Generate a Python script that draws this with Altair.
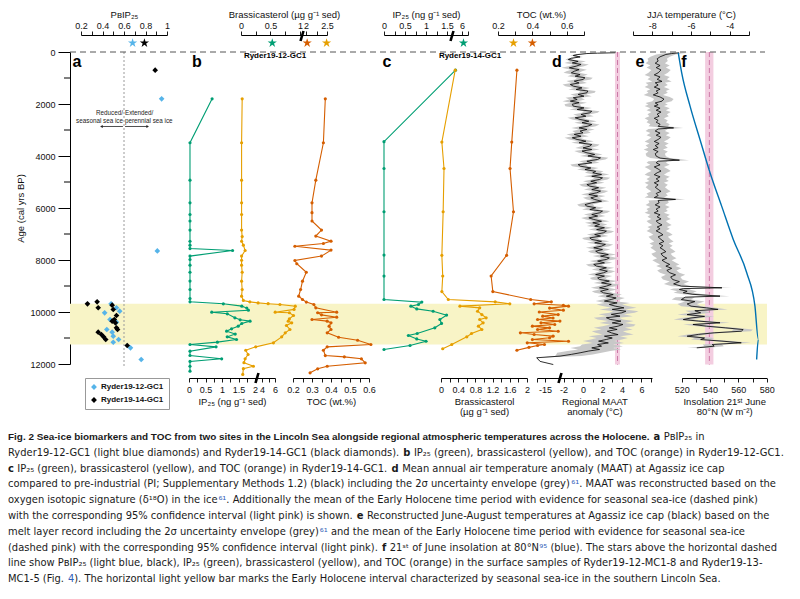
import os
import struct
import altair as alt
import pandas as pd

# ======================= DATA =======================
# a: PBIP25
a12_age = [1800, 7650, 9685, 9838, 9969, 10031, 10288, 10390, 10673, 10776, 10930, 11058, 11162, 11377, 11827]
a12_val = [0.95, 0.91, 0.48, 0.53, 0.56, 0.42, 0.47, 0.53, 0.44, 0.49, 0.50, 0.55, 0.50, 0.66, 0.76]
a14_age = [700, 9608, 9685, 9738, 9838, 9904, 10135, 10288, 10352, 10416, 10608, 10673, 10776, 10865, 10954, 11058, 11288]
a14_val = [0.89, 0.35, 0.26, 0.49, 0.36, 0.50, 0.53, 0.51, 0.49, 0.52, 0.53, 0.54, 0.36, 0.39, 0.41, 0.43, 0.63]
cores = ["Ryder19-12-GC1", "Ryder19-14-GC1"]
star_a = [0.68, 0.79]          # surface PBIP25 (light blue, black)

# b: Ryder19-12-GC1
b_ip_age = [1800, 3490, 4930, 5800, 6250, 6500, 6850, 7280, 7430, 7560, 7635, 7850, 7980, 8200, 8470, 8810, 9135,
            9480, 9608, 9685, 9775, 9850, 9930, 10007, 10070, 10223, 10300, 10352, 10442, 10544, 10647, 10737,
            10850, 10955, 11058, 11160, 11250, 11340, 11506, 11673, 11800, 11900, 12085, 12275]
b_ip_val = [0.70, 0.03, 0.03, 0.03, 0.03, 0.03, 0.03, 0.03, 0.03, 0.03, 1.32, 0.03, 0.03, 0.03, 0.03, 0.03, 0.03,
            0.03, 0.03, 1.04, 1.60, 1.75, 1.80, 0.69, 1.16, 1.39, 1.55, 1.85, 1.60, 1.49, 1.29, 1.14,
            1.40, 1.16, 1.44, 0.86, 0.03, 0.82, 0.03, 0.03, 0.99, 0.03, 0.03, 0.03]
b_br_age = [1800, 3490, 4930, 5800, 6250, 6850, 7100, 7280, 7430, 7635, 7850, 8010, 8200, 8470, 8815, 9135, 9390,
            9555, 9610, 9650, 9680, 9710, 9775, 9900, 10007, 10030, 10135, 10265, 10352, 10416, 10520, 10673,
            10800, 10955, 11185, 11340, 11470, 11635, 11800, 11950, 12085, 12180, 12400]
b_br_val = [0.02, 0.01, 0.01, 0.01, 0.01, 0.01, 0.02, 0.01, 0.04, 0.07, 0.01, 0.01, 0.01, 0.02, 0.01, 0.02, 0.01,
            0.04, 0.15, 0.29, 0.46, 0.66, 0.92, 0.90, 0.58, 0.82, 0.89, 0.82, 0.80, 0.86, 0.77, 0.83,
            0.75, 0.69, 0.55, 0.25, 0.08, 0.12, 0.07, 0.05, 0.21, 0.04, 0.03]
b_toc_age = [1800, 3490, 4930, 5800, 6180, 6500, 6850, 7080, 7275, 7365, 7470, 7620, 7850, 8020, 8145, 8470, 8815,
             9135, 9390, 9520, 9620, 9710, 9840, 10007, 10030, 10110, 10200, 10290, 10352, 10416, 10544, 10673,
             10800, 10970, 11085, 11250, 11340, 11470, 11675, 11725, 11800, 11955, 12085, 12185, 12340]
b_toc_val = [0.37, 0.36, 0.32, 0.30, 0.30, 0.30, 0.35, 0.32, 0.40, 0.36, 0.21, 0.40, 0.35, 0.21, 0.22, 0.27, 0.25,
             0.24, 0.23, 0.25, 0.27, 0.31, 0.32, 0.43, 0.33, 0.35, 0.43, 0.30, 0.38, 0.40, 0.39, 0.40,
             0.38, 0.44, 0.54, 0.61, 0.38, 0.36, 0.37, 0.47, 0.56, 0.58, 0.38, 0.33, 0.29]
star_b = [0.53, 2.03, 2.49]    # marks on the top axis of b (green, orange, yellow)

# c: Ryder19-14-GC1
c_ip_age = [700, 3450, 4480, 6145, 7810, 8620, 9520, 9620, 9710, 9775, 9880, 9970, 10120, 10290, 10440, 10608,
            10827, 10904, 11035, 11125, 11290, 11443]
c_ip_val = [4.7, 0, 0, 0, 0, 0, 0, 0.9, 0.82, 0.64, 0.78, 1.17, 1.49, 1.33, 1.37, 1.21, 0.79, 0.58, 0.78, 1.0, 0.62, 0]
c_br_age = [700, 3465, 4480, 6145, 7820, 8615, 9215, 9520, 9610, 9685, 9775, 9840, 9970, 10100, 10225, 10290,
            10416, 10545, 10673, 10827, 10955, 11250, 11415]
c_br_val = [0.33, 0.02, 0.07, 0.05, 0.02, 0.04, 0.02, 0.17, 1.26, 1.60, 0.44, 0.90, 0.85, 0.95, 1.05, 0.90,
            0.98, 0.87, 0.95, 0.71, 0.60, 0.25, 0.04]
c_toc_age = [700, 3465, 4480, 6145, 7820, 8615, 9215, 9520, 9610, 9685, 9740, 9775, 9850, 9930, 10000, 10100,
             10160, 10230, 10290, 10350, 10416, 10480, 10545, 10610, 10673, 10740, 10800, 10865, 10930, 10990,
             11060, 11125, 11185, 11250, 11290, 11360, 11470]
c_toc_val = [0.31, 0.28, 0.27, 0.29, 0.25, 0.16, 0.17, 0.39, 0.51, 0.41, 0.58, 0.61, 0.50, 0.58, 0.44, 0.55,
             0.46, 0.52, 0.43, 0.56, 0.45, 0.53, 0.40, 0.50, 0.43, 0.55, 0.33, 0.41, 0.52, 0.50,
             0.40, 0.61, 0.37, 0.47, 0.43, 0.38, 0.31]
star_c_ip = 6.3
star_c_toc = [0.29, 0.40]      # yellow, orange

# d: MAAT anomaly (deg C)
d_age = [30, 45, 60, 100, 135, 190, 240, 288, 360, 420, 480, 544, 610, 680, 740, 800, 870, 930, 990, 1056,
         1120, 1190, 1250, 1313, 1380, 1440, 1500, 1569, 1630, 1700, 1760, 1826, 1890, 1950, 2010, 2082, 2150,
         2210, 2280, 2338, 2400, 2470, 2530, 2595, 2660, 2720, 2790, 2851, 2920, 2980, 3040, 3108, 3170, 3240,
         3300, 3364, 3430, 3490, 3560, 3620, 3690, 3750, 3810, 3877, 3940, 4000, 4070, 4133, 4200, 4260, 4330,
         4390, 4460, 4520, 4590, 4646, 4710, 4780, 4840, 4903, 4970, 5030, 5100, 5159, 5220, 5290, 5350, 5415,
         5480, 5540, 5610, 5672, 5740, 5800, 5870, 5928, 5990, 6060, 6120, 6185, 6250, 6310, 6380, 6441, 6510,
         6570, 6630, 6697, 6760, 6830, 6890, 6954, 7020, 7080, 7150, 7210, 7280, 7340, 7400, 7467, 7530, 7600,
         7660, 7723, 7790, 7850, 7920, 7979, 8040, 8110, 8170, 8236, 8300, 8370, 8430, 8492, 8560, 8620, 8690,
         8749, 8810, 8880, 8940, 9005, 9070, 9130, 9200, 9261, 9330, 9390, 9460, 9518, 9580, 9650, 9710, 9774,
         9840, 9900, 9970, 10031, 10090, 10160, 10220, 10287, 10350, 10420, 10480, 10544, 10610, 10670, 10740,
         10800, 10870, 10930, 11000, 11056, 11120, 11190, 11250, 11313, 11380, 11440, 11500, 11569, 11630, 11697,
         11760, 11900, 12020]
d_val = [3.3, 1.5, 0.4, -0.6, -1.0, -0.3, -1.2, -1.5, -0.5, -1.1, -0.2, -0.7, -1.4, -0.4, -0.9, -1.2, -0.3, -0.8,
         0.2, 0.0, -0.9, -0.4, -1.3, -1.0, -0.1, -0.7, 0.5, 0.4, -0.5, 0.1, -1.0, -0.6, -1.3, -0.4, -1.1, -1.0,
         0.1, -0.6, 0.9, 0.7, -0.2, 0.3, -0.8, -0.3, 0.6, -0.1, 0.9, 0.5, -0.4, 0.4, -0.3, 0.0, -0.9, -0.2, -1.1,
         -0.6, 0.3, -0.4, 0.9, 0.7, 0.0, 0.9, -0.1, 0.4, 1.2, 0.5, 1.8, 1.5, 0.4, 0.9, -0.5, -0.3, 0.8, 0.2, 1.3,
         1.0, 1.9, 0.9, 2.0, 1.7, 0.8, 1.4, 0.4, 0.7, 1.6, 0.9, 1.8, 1.4, 0.6, 1.5, 0.8, 1.2, 1.9, 0.9, 0.2, 0.4,
         1.3, 0.7, 2.0, 1.7, 0.9, 1.5, 0.6, 1.1, 1.9, 1.0, 1.7, 1.2, 2.2, 1.4, 2.4, 2.1, 1.2, 1.8, 0.7, 0.9, 1.9,
         1.2, 2.3, 1.9, 1.1, 2.0, 1.3, 1.6, 2.6, 1.8, 2.7, 2.4, 1.5, 2.2, 1.1, 1.4, 2.4, 1.7, 2.5, 2.1, 1.3, 2.2,
         1.5, 1.7, 2.7, 1.9, 2.9, 2.4, 1.7, 2.6, 1.8, 2.1, 3.1, 2.4, 3.4, 2.9, 2.2, 3.5, 2.7, 3.3, 4.2, 3.0, 4.4,
         4.0, 2.9, 3.8, 2.4, 2.8, 3.9, 3.0, 4.1, 3.6, 2.7, 3.5, 2.5, 2.9, 3.6, 2.2, 3.0, 2.4, 1.6, 2.6, 1.5, 1.9,
         0.9, 1.7, 0.6, -0.3, -1.2, -2.36, -23.5, -20.0, -6.5]
# 2-sigma envelope half width, given from each listed age downwards
d_env_age = [0, 300, 9000, 9600, 10500, 11300, 11700]
d_env_half = [0.3, 0.8, 0.9, 1.3, 1.6, 2.2, 0.4]
d_eh_mean, d_eh_lo, d_eh_hi = 3.54, 3.28, 3.79

# e: JJA temperature (deg C)
e_age = [30, 60, 95, 185, 260, 350, 430, 520, 600, 690, 800, 880, 960, 1050, 1130, 1185, 1270, 1350, 1430, 1500,
         1570, 1650, 1730, 1810, 1890, 1960, 2030, 2080, 2160, 2240, 2310, 2390, 2470, 2550, 2630, 2700, 2780,
         2860, 2920, 2960, 3040, 3120, 3200, 3280, 3365, 3440, 3520, 3600, 3680, 3750, 3830, 3910, 4005, 4080,
         4160, 4200, 4260, 4340, 4420, 4500, 4580, 4645, 4720, 4800, 4880, 4960, 5030, 5110, 5200, 5285, 5360,
         5440, 5520, 5600, 5670, 5710, 5800, 5880, 5960, 6040, 6120, 6185, 6260, 6340, 6420, 6500, 6570, 6650,
         6730, 6800, 6880, 6955, 7030, 7110, 7210, 7290, 7370, 7450, 7530, 7595, 7680, 7760, 7850, 7930, 8010,
         8100, 8170, 8235, 8320, 8400, 8490, 8570, 8650, 8750, 8830, 8920, 9005, 9070, 9100, 9135, 9200, 9260,
         9320, 9390, 9430, 9520, 9600, 9690, 9775, 9840, 9900, 9950, 10030, 10100, 10170, 10230, 10290, 10350,
         10415, 10480, 10545, 10610, 10675, 10740, 10800, 10860, 10930, 11000, 11060, 11120, 11185, 11250, 11315,
         11380]
e_val = [-6.62, -7.0, -7.3, -7.6, -7.75, -7.7, -7.85, -7.6, -7.8, -7.55, -7.7, -7.9, -7.6, -7.75, -7.5, -7.85,
         -7.7, -7.9, -7.6, -7.8, -7.7, -7.95, -7.6, -7.4, -7.5, -7.85, -7.7, -7.9, -7.6, -7.8, -7.55, -7.75, -7.65,
         -7.9, -7.7, -7.8, -7.6, -7.7, -6.9, -7.7, -7.85, -7.6, -7.8, -7.55, -7.7, -7.9, -7.65, -7.85, -7.7, -7.95,
         -7.7, -7.85, -7.8, -7.6, -6.6, -7.7, -7.8, -7.6, -7.9, -7.7, -7.55, -7.75, -7.9, -7.6, -7.8, -7.65, -7.9,
         -7.7, -7.85, -7.7, -7.55, -7.8, -7.7, -7.9, -6.8, -7.7, -7.65, -7.85, -7.6, -7.8, -7.7, -7.9, -7.6, -7.75,
         -7.55, -7.8, -7.7, -7.5, -7.75, -7.6, -7.8, -7.6, -7.45, -7.7, -7.55, -7.4, -7.65, -7.45, -7.6, -7.45,
         -7.3, -7.55, -7.45, -7.25, -7.5, -7.3, -7.1, -7.3, -7.0, -7.25, -7.1, -6.8, -7.05, -6.95, -6.6, -6.9, -6.5,
         -4.4, -6.4, -6.6, -6.2, -6.4, -5.9, -4.5, -6.3, -6.5, -5.8, -6.2, -6.0, -5.2, -4.6, -5.8, -5.5, -6.2, -5.3,
         -6.0, -6.4, -5.6, -4.5, -5.9, -5.2, -4.2, -3.3, -3.4, -4.8, -5.6, -6.2, -5.3, -5.5, -4.4, -3.4, -4.9, -4.8,
         -5.7]
e_env_half = 0.5
e_eh_mean, e_eh_lo, e_eh_hi = -5.05, -5.27, -4.84

# f: insolation 21 June 80N
f_age = [30, 800, 2080, 3365, 4645, 5928, 7210, 8490, 9775, 11056, 11830]
f_val = [517.6, 520.0, 525.9, 532.9, 540.0, 548.2, 556.4, 565.9, 571.7, 574.1, 572.9]

band_age = [9680, 11250]       # Early Holocene seasonal sea-ice interval

# ======================= LAYOUT / STYLE =======================
X0, Y0 = 70, 52          # page position of the plot origin
W, H = 710, 312
FONT = "Liberation Sans"
LB, GR, YE, OR, BL = "#56B4E9", "#009E73", "#E69F00", "#D55E00", "#0072B2"
PINK, PINKD, YBAND, GREY = "#f3cde0", "#cc79a7", "#f8f4c6", "#c8c8c8"
LINK = "#3060b8"
STAR = ("M0,-1L0.2245,-0.309L0.9511,-0.309L0.3633,0.118L0.5878,0.809L0,0.382L-0.5878,0.809"
        "L-0.3633,0.118L-0.9511,-0.309L-0.2245,-0.309Z")
DUMMY = pd.DataFrame({"k": [0]})
YS = alt.Scale(domain=[0, 12000], reverse=True)
layers = []


def rng(p0, p1):
    return [p0 - X0, p1 - X0]


def lexpr(pairs):
    e = "''"
    for v, lab in reversed(pairs):
        e = f"abs(datum.value - ({v})) < 0.0001 ? '{lab}' : {e}"
    return e


def xaxis(orient, title, ticks, labels):
    top = orient == "top"
    return alt.Axis(orient=orient, title=title, values=ticks, labelExpr=lexpr(labels),
                    offset=17 if top else 14, grid=False, tickSize=4, tickColor="black", tickWidth=0.9,
                    domainColor="black", domainWidth=1, labelFont=FONT, labelFontSize=9, labelColor="#111",
                    titleFont=FONT, titleFontSize=9.5, titleFontWeight="normal", titleColor="#111",
                    labelOverlap=False, labelFlush=False, labelPadding=1 if top else 3, titlePadding=2,
                    titleLineHeight=10)


def frange(a, b, s):
    n = int(round((b - a) / s))
    return [round(a + i * s, 4) for i in range(n + 1)]


def step_lookup(ages, keys, vals):
    out = []
    for a in ages:
        v = vals[0]
        for k, hv in zip(keys, vals):
            if a >= k:
                v = hv
        out.append(v)
    return out


def profile(age, val, scale, axis, color):
    df = pd.DataFrame({"age": age, "v": val})
    base = alt.Chart(df).encode(y=alt.Y("age:Q", scale=YS, axis=None))
    line = base.mark_line(color=color, strokeWidth=1.1).encode(
        x=alt.X("v:Q", scale=scale, axis=axis), order=alt.Order("age:Q"))
    dots = base.mark_circle(color=color, size=10, opacity=1).encode(x=alt.X("v:Q", scale=scale, axis=None))
    return [line, dots]


def star(value, scale, color):
    return alt.Chart(pd.DataFrame({"v": [value]})).mark_point(
        shape=STAR, filled=True, size=95, color=color, opacity=1).encode(
        x=alt.X("v:Q", scale=scale, axis=None), y=alt.value(-9))


def vband(lo, hi, mean, scale):
    df = pd.DataFrame({"lo": [lo], "hi": [hi], "m": [mean], "a0": [0], "a1": [12020]})
    rect = alt.Chart(df).mark_rect(color=PINK, opacity=1).encode(
        x=alt.X("lo:Q", scale=scale, axis=None), x2="hi", y=alt.Y("a0:Q", scale=YS, axis=None), y2="a1")
    dash = alt.Chart(df).mark_rule(color=PINKD, strokeDash=[5, 3], strokeWidth=1).encode(
        x=alt.X("m:Q", scale=scale, axis=None), y=alt.Y("a0:Q", scale=YS, axis=None), y2="a1")
    return [rect, dash]


# ---------------- background band ----------------
layers.append(alt.Chart(DUMMY).mark_rect(color=YBAND, opacity=1).encode(
    x=alt.value(0), x2=alt.value(767 - X0),
    y=alt.YDatum(band_age[0], scale=YS, axis=None), y2=alt.Y2Datum(band_age[1])))

# ---------------- panel a ----------------
scA = alt.Scale(domain=[0.2, 1.0], range=rng(81, 167))
axA = xaxis("top", "P\u0299IP\u2082\u2085", frange(0.2, 1.0, 0.1),
            [(0.2, "0.2"), (0.4, "0.4"), (0.6, "0.6"), (0.8, "0.8"), (1.0, "1")])
yaxis = alt.Axis(orient="left", values=list(range(0, 12001, 2000)), format="d", tickSize=12, tickColor="black",
                 domainColor="black", labelFont=FONT, labelFontSize=9, labelColor="#111", labelPadding=3,
                 title="Age (cal yrs BP)", titleFont=FONT, titleFontSize=9.5, titleFontWeight="normal",
                 titleColor="#111", titlePadding=4, grid=False, labelOverlap=False)
dfa = pd.DataFrame({"age": a12_age + a14_age, "v": a12_val + a14_val,
                    "core": [cores[0]] * len(a12_age) + [cores[1]] * len(a14_age)})
thr = pd.DataFrame({"v": [0.6], "a0": [0], "a1": [12120]})
layers.append(alt.Chart(thr).mark_rule(color="#9a9a9a", strokeDash=[2, 2], strokeWidth=1).encode(
    x=alt.X("v:Q", scale=scA, axis=None), y=alt.Y("a0:Q", scale=YS, axis=None), y2="a1"))
layers.append(alt.Chart(dfa).mark_point(shape="diamond", filled=True, size=32, opacity=1).encode(
    x=alt.X("v:Q", scale=scA, axis=axA),
    y=alt.Y("age:Q", scale=YS, axis=yaxis),
    color=alt.Color("core:N", scale=alt.Scale(domain=cores, range=[LB, "black"]),
                    legend=alt.Legend(orient="none", legendX=15, legendY=326, title=None, symbolType="diamond",
                                      symbolSize=34, symbolStrokeWidth=0, labelFont=FONT, labelFontSize=8,
                                      labelFontWeight="bold", labelColor="#111", strokeColor="#999",
                                      fillColor="white", padding=5, rowPadding=5, labelOffset=3))))


def atext(txt, age, align, dx):
    return alt.Chart(DUMMY).mark_text(text=txt, font=FONT, fontSize=6.3, align=align, baseline="middle",
                                      dx=dx, color="#222").encode(
        x=alt.XDatum(0.6, scale=scA, axis=None), y=alt.YDatum(age, scale=YS, axis=None))


layers += [atext("Reduced/", 2330, "right", -1), atext("Extended/", 2330, "left", 1),
           atext("seasonal sea ice", 2635, "right", -1), atext("perennial sea ice", 2635, "left", 1)]
arr = pd.DataFrame({"x0": [0.59, 0.61], "x1": [0.39, 0.82], "age": [2865, 2865]})
layers.append(alt.Chart(arr).mark_rule(color="#222", strokeWidth=0.8).encode(
    x=alt.X("x0:Q", scale=scA, axis=None), x2="x1", y=alt.Y("age:Q", scale=YS, axis=None)))
for i, shp in [(0, "triangle-left"), (1, "triangle-right")]:
    layers.append(alt.Chart(arr.iloc[[i]]).mark_point(shape=shp, filled=True, size=9, color="#222",
                                                       opacity=1).encode(
        x=alt.X("x1:Q", scale=scA, axis=None), y=alt.Y("age:Q", scale=YS, axis=None)))
layers += [star(star_a[0], scA, LB), star(star_a[1], scA, "black")]

# ---------------- panel b ----------------
scB1 = alt.Scale(domain=[0, 2.606], range=rng(189, 275))
axB1 = xaxis("bottom", "IP\u2082\u2085 (ng g\u207b\u00b9 sed)", frange(0, 2, 0.25) + [2.212, 2.41, 2.606],
             [(0, "0"), (0.5, "0.5"), (1, "1"), (1.5, "1.5"), (2, "2"), (2.212, "4"), (2.606, "6")])


def brass_b(v):          # broken top axis of panel b
    return v if v <= 1 else 1.10 + (v - 2) * 0.716


scB2 = alt.Scale(domain=[0, 1.458], range=rng(241, 327))
axB2 = xaxis("top", "Brassicasterol (\u00b5g g\u207b\u00b9 sed)", [0, 0.25, 0.5, 0.75, 1.0, 1.10, 1.28, 1.458],
             [(0, "0"), (0.5, "0.5"), (1.0, "1"), (1.10, "2"), (1.458, "2.5")])
scB3 = alt.Scale(domain=[0.2, 0.6], range=rng(293, 369))
axB3 = xaxis("bottom", "TOC (wt.%)", frange(0.2, 0.6, 0.05),
             [(0.2, "0.2"), (0.3, "0.3"), (0.4, "0.4"), (0.5, "0.5"), (0.6, "0.6")])
layers += profile(b_ip_age, b_ip_val, scB1, axB1, GR)
layers += profile(b_br_age, b_br_val, scB2, axB2, YE)
layers += [star(brass_b(star_b[0]), scB2, GR), star(brass_b(star_b[1]), scB2, OR), star(brass_b(star_b[2]), scB2, YE)]
layers += profile(b_toc_age, b_toc_val, scB3, axB3, OR)

# ---------------- panel c ----------------


def ip_c(v):             # broken top axis of panel c
    return v if v <= 1.6 else 1.62 + (v - 4) * 0.1185


scC1 = alt.Scale(domain=[0, 2.0], range=rng(384, 468))
axC1 = xaxis("top", "IP\u2082\u2085 (ng g\u207b\u00b9 sed)", frange(0, 1.5, 0.25) + [1.857, 2.0],
             [(0, "0"), (0.5, "0.5"), (1, "1"), (1.5, "1.5"), (1.857, "6")])
scC2 = alt.Scale(domain=[0, 2], range=rng(441, 527))
axC2 = xaxis("bottom", ["Brassicasterol", "(\u00b5g g\u207b\u00b9 sed)"], frange(0, 2, 0.2),
             [(0, "0"), (0.4, "0.4"), (0.8, "0.8"), (1.2, "1.2"), (1.6, "1.6"), (2, "2")])
scC3 = alt.Scale(domain=[0.2, 0.7], range=rng(498, 584))
axC3 = xaxis("top", "TOC (wt.%)", frange(0.2, 0.7, 0.1), [(0.2, "0.2"), (0.4, "0.4"), (0.6, "0.6")])
layers += profile(c_ip_age, [ip_c(v) for v in c_ip_val], scC1, axC1, GR)
layers.append(star(ip_c(star_c_ip), scC1, GR))
layers += profile(c_br_age, c_br_val, scC2, axC2, YE)
layers += profile(c_toc_age, c_toc_val, scC3, axC3, OR)
layers += [star(star_c_toc[0], scC3, YE), star(star_c_toc[1], scC3, OR)]

# ---------------- panel d ----------------


def maat(v):             # broken bottom axis of panel d
    return v if v >= -2.4 else -3.9 + (v + 15) * 0.1


scD = alt.Scale(domain=[-4.72, 7.08], range=rng(537, 652))
axD = xaxis("bottom", ["Regional MAAT", "anomaly (\u00b0C)"], [-4.72, -3.9] + list(range(-2, 8)),
            [(-3.9, "-15"), (-2, "-2"), (0, "0"), (2, "2"), (4, "4"), (6, "6")])
d_half = step_lookup(d_age, d_env_age, d_env_half)
dfd = pd.DataFrame({"age": d_age, "v": [maat(v) for v in d_val],
                    "lo": [maat(v - e) for v, e in zip(d_val, d_half)],
                    "hi": [maat(v + e) for v, e in zip(d_val, d_half)]})
layers += vband(d_eh_lo, d_eh_hi, d_eh_mean, scD)
layers.append(alt.Chart(dfd).mark_area(orient="horizontal", color=GREY, opacity=1).encode(
    x=alt.X("lo:Q", scale=scD, axis=None), x2="hi", y=alt.Y("age:Q", scale=YS, axis=None)))
layers.append(alt.Chart(dfd).mark_line(color="black", strokeWidth=0.8).encode(
    x=alt.X("v:Q", scale=scD, axis=axD), y=alt.Y("age:Q", scale=YS, axis=None), order=alt.Order("age:Q")))

# ---------------- panel e ----------------
scE = alt.Scale(domain=[-9, -3], range=rng(633, 749))
axE = xaxis("top", "JJA temperature (\u00b0C)", list(range(-9, -2)), [(-8, "-8"), (-6, "-6"), (-4, "-4")])
dfe = pd.DataFrame({"age": e_age, "v": e_val, "lo": [v - e_env_half for v in e_val],
                    "hi": [v + e_env_half for v in e_val]})
layers += vband(e_eh_lo, e_eh_hi, e_eh_mean, scE)
layers.append(alt.Chart(dfe).mark_area(orient="horizontal", color=GREY, opacity=1).encode(
    x=alt.X("lo:Q", scale=scE, axis=None), x2="hi", y=alt.Y("age:Q", scale=YS, axis=None)))
layers.append(alt.Chart(dfe).mark_line(color="black", strokeWidth=0.8).encode(
    x=alt.X("v:Q", scale=scE, axis=axE), y=alt.Y("age:Q", scale=YS, axis=None), order=alt.Order("age:Q")))

# ---------------- panel f ----------------
scF = alt.Scale(domain=[520, 580], range=rng(681.7, 766.7))
axF = xaxis("bottom", ["Insolation 21\u02e2\u1d57 June", "80\u00b0N (W m\u207b\u00b2)"], list(range(520, 581, 10)),
            [(520, "520"), (540, "540"), (560, "560"), (580, "580")])
layers.append(alt.Chart(pd.DataFrame({"age": f_age, "v": f_val})).mark_line(
    color=BL, strokeWidth=1.4, interpolate="monotone").encode(
    x=alt.X("v:Q", scale=scF, axis=axF), y=alt.Y("age:Q", scale=YS, axis=None), order=alt.Order("age:Q")))

# ---------------- shared decorations ----------------
layers.append(alt.Chart(DUMMY).mark_rule(color="#555", strokeDash=[6, 4], strokeWidth=1).encode(
    x=alt.value(0), x2=alt.value(765 - X0), y=alt.YDatum(0, scale=YS, axis=None)))
layers.append(alt.Chart(pd.DataFrame({"age": list(range(1000, 12000, 2000))})).mark_rule(
    color="black", strokeWidth=1).encode(x=alt.value(-6), x2=alt.value(0), y=alt.Y("age:Q", scale=YS, axis=None)))


def label(txt, px, py, size, weight="bold", align="center", color="black", font=FONT):
    return alt.Chart(DUMMY).mark_text(text=txt, font=font, fontSize=size, fontWeight=weight, align=align,
                                      baseline="middle", color=color).encode(
        x=alt.value(px - X0), y=alt.value(py - Y0))


def breakmark(px, py):
    return alt.Chart(DUMMY).mark_point(shape="M-0.3,1L0.3,-1", filled=False, strokeWidth=2.6, size=100,
                                       color="black", opacity=1).encode(x=alt.value(px - X0), y=alt.value(py - Y0))


layers += [label(t, x, 62, 16) for t, x in [("a", 77), ("b", 197), ("c", 387), ("d", 557), ("e", 640), ("f", 684)]]
layers += [label("Ryder19-12-GC1", 275, 56, 8), label("Ryder19-14-GC1", 470, 56, 8)]
layers += [breakmark(257, 378), breakmark(302, 36), breakmark(452, 36), breakmark(560, 378)]

# ---------------- caption (text measured with the installed font files) ----------------
SUB25 = "\u2082\u2085"
PB = "P\u0299IP" + SUB25
cap_lines = [
    [("Fig. 2 Sea-ice biomarkers and TOC from two sites in the Lincoln Sea alongside regional atmospheric "
      "temperatures across the Holocene. ", "R"), ("a ", "b"), (PB + " in", "n")],
    [("Ryder19-12-GC1 (light blue diamonds) and Ryder19-14-GC1 (black diamonds). ", "n"), ("b ", "b"),
     ("IP" + SUB25 + " (green), brassicasterol (yellow), and TOC (orange) in Ryder19-12-GC1.", "n")],
    [("c ", "b"), ("IP" + SUB25 + " (green), brassicasterol (yellow), and TOC (orange) in Ryder19-14-GC1. ", "n"),
     ("d ", "b"), ("Mean annual air temperature anomaly (MAAT) at Agassiz ice cap", "n")],
    [("compared to pre-industrial (PI; Supplementary Methods 1.2) (black) including the 2\u03c3 uncertainty "
      "envelope (grey)", "n"), ("\u2076\u00b9", "L"), (". MAAT was reconstructed based on the", "n")],
    [("oxygen isotopic signature (\u03b4\u00b9\u2078O) in the ice", "n"), ("\u2076\u00b9", "L"),
     (". Additionally the mean of the Early Holocene time period with evidence for seasonal sea-ice (dashed pink)", "n")],
    [("with the corresponding 95% confidence interval (light pink) is shown. ", "n"), ("e ", "b"),
     ("Reconstructed June-August temperatures at Agassiz ice cap (black) based on the", "n")],
    [("melt layer record including the 2\u03c3 uncertainty envelope (grey)", "n"), ("\u2076\u00b9", "L"),
     (" and the mean of the Early Holocene time period with evidence for seasonal sea-ice", "n")],
    [("(dashed pink) with the corresponding 95% confidence interval (light pink). ", "n"), ("f ", "b"),
     ("21\u02e2\u1d57 of June insolation at 80\u00b0N", "n"), ("\u2079\u2075", "L"),
     (" (blue). The stars above the horizontal dashed", "n")],
    [("line show " + PB + " (light blue, black), IP" + SUB25 + " (green), brassicasterol (yellow), and TOC "
      "(orange) in the surface samples of Ryder19-12-MC1-8 and Ryder19-13-", "n")],
    [("MC1-5 (Fig. ", "n"), ("4", "L"), ("). The horizontal light yellow bar marks the Early Holocene interval "
                                         "characterized by seasonal sea-ice in the southern Lincoln Sea.", "n")],
]


def find_font(name):
    for root in ["/usr/share/fonts", "/usr/local/share/fonts", os.path.expanduser("~/.fonts"),
                 os.path.expanduser("~/.local/share/fonts")]:
        if os.path.isdir(root):
            for dp, _, files in os.walk(root):
                if name in files:
                    return os.path.join(dp, name)
    return None


class FontMetrics:
    def __init__(self, path, chars, fallback):
        self.fallback = fallback
        data = open(path, "rb").read()
        base = struct.unpack(">I", data[12:16])[0] if data[:4] == b"ttcf" else 0
        ntab = struct.unpack(">H", data[base + 4:base + 6])[0]
        tabs = {}
        for i in range(ntab):
            rec = data[base + 12 + 16 * i: base + 28 + 16 * i]
            tabs[rec[:4].decode("latin1")] = struct.unpack(">I", rec[8:12])[0]
        self.upem = struct.unpack(">H", data[tabs["head"] + 18: tabs["head"] + 20])[0]
        nhm = struct.unpack(">H", data[tabs["hhea"] + 34: tabs["hhea"] + 36])[0]
        o = tabs["hmtx"]
        self.adv = [struct.unpack(">H", data[o + 4 * i: o + 4 * i + 2])[0] for i in range(nhm)]
        c = tabs["cmap"]
        n = struct.unpack(">H", data[c + 2: c + 4])[0]
        sub = None
        for i in range(n):
            pid, eid, so = struct.unpack(">HHI", data[c + 4 + 8 * i: c + 12 + 8 * i])
            fmt = struct.unpack(">H", data[c + so: c + so + 2])[0]
            if fmt == 12:
                sub = (12, c + so)
                break
            if fmt == 4 and sub is None:
                sub = (4, c + so)
        self.cmap = {}
        fmt, s = sub
        codes = sorted(set(ord(ch) for ch in chars))
        if fmt == 4:
            segx2 = struct.unpack(">H", data[s + 6: s + 8])[0]
            sc = segx2 // 2
            ends = struct.unpack(f">{sc}H", data[s + 14: s + 14 + segx2])
            starts = struct.unpack(f">{sc}H", data[s + 16 + segx2: s + 16 + 2 * segx2])
            deltas = struct.unpack(f">{sc}h", data[s + 16 + 2 * segx2: s + 16 + 3 * segx2])
            ro = s + 16 + 3 * segx2
            roffs = struct.unpack(f">{sc}H", data[ro: ro + segx2])
            for cp in codes:
                for i in range(sc):
                    if starts[i] <= cp <= ends[i]:
                        if roffs[i] == 0:
                            g = (cp + deltas[i]) & 0xFFFF
                        else:
                            addr = ro + 2 * i + roffs[i] + 2 * (cp - starts[i])
                            g = struct.unpack(">H", data[addr: addr + 2])[0]
                            if g:
                                g = (g + deltas[i]) & 0xFFFF
                        if g:
                            self.cmap[cp] = g
                        break
        else:
            ng = struct.unpack(">I", data[s + 12: s + 16])[0]
            groups = [struct.unpack(">III", data[s + 16 + 12 * j: s + 28 + 12 * j]) for j in range(ng)]
            for cp in codes:
                for a, b, g0 in groups:
                    if a <= cp <= b:
                        self.cmap[cp] = g0 + cp - a
                        break

    def width(self, text, size):
        tot = 0.0
        for ch in text:
            g = self.cmap.get(ord(ch))
            if g is None:
                tot += self.fallback * self.upem
            else:
                tot += self.adv[min(g, len(self.adv) - 1)]
        return tot / self.upem * size


class ApproxMetrics:
    def __init__(self, em):
        self.em = em

    def width(self, text, size):
        return len(text) * self.em * size


all_chars = "".join(t for ln in cap_lines for t, _ in ln) + " "
CAP_FONT = "DejaVu Sans"
RUN_FONT = "Liberation Sans"
try:
    m_reg = FontMetrics(find_font("DejaVuSans.ttf"), all_chars, 0.6)
    m_bold = FontMetrics(find_font("DejaVuSans-Bold.ttf"), all_chars, 0.68)
    m_run = FontMetrics(find_font("LiberationSans-Bold.ttf"), all_chars, 0.6)
except Exception:
    m_reg, m_bold, m_run = ApproxMetrics(0.56), ApproxMetrics(0.63), ApproxMetrics(0.56)

CAP_L, CAP_R = 8, 785
run_text = cap_lines[0][0][0]
RUN_SIZE = (733 - CAP_L) / m_run.width(run_text, 1.0)
mets = {"n": m_reg, "L": m_reg, "b": m_bold}


def line_width(segs, size):
    tot = 0.0
    for txt, st in segs:
        if st == "R":
            tot += m_run.width(txt, RUN_SIZE)
        else:
            tot += mets[st].width(txt, size)
    return tot


CAP_SIZE = 11.0
for segs in cap_lines:
    fixed = sum(m_run.width(t, RUN_SIZE) for t, st in segs if st == "R")
    var = line_width([(t, st) for t, st in segs if st != "R"], 1.0)
    CAP_SIZE = min(CAP_SIZE, (CAP_R - CAP_L - fixed) / var)
RUN_SIZE = min(RUN_SIZE, CAP_SIZE)
style = {"n": (CAP_FONT, "normal", "#1a1a1a", m_reg, CAP_SIZE),
         "L": (CAP_FONT, "normal", LINK, m_reg, CAP_SIZE),
         "b": (CAP_FONT, "bold", "#1a1a1a", m_bold, CAP_SIZE),
         "R": (RUN_FONT, "bold", "#1a1a1a", m_run, RUN_SIZE)}
for i, segs in enumerate(cap_lines):
    ypos = 437 + i * 15.8
    xpos = CAP_L
    for txt, st in segs:
        font, weight, color, met, size = style[st]
        lead = len(txt) - len(txt.lstrip(" "))
        layers.append(label(txt.strip(" "), xpos + met.width(" " * lead, size), ypos, size, weight=weight,
                            align="left", color=color, font=font))
        xpos += met.width(txt, size)

chart = alt.layer(*layers).resolve_scale(x="independent").resolve_axis(y="independent").properties(
    width=W, height=H, padding={"left": X0 - 8, "top": Y0 - 8, "right": 12, "bottom": 227},
    autosize=alt.AutoSizeParams(type="none")
).configure_view(stroke=None)

chart.save("out.html", embed_options={"renderer": "svg", "actions": False})
